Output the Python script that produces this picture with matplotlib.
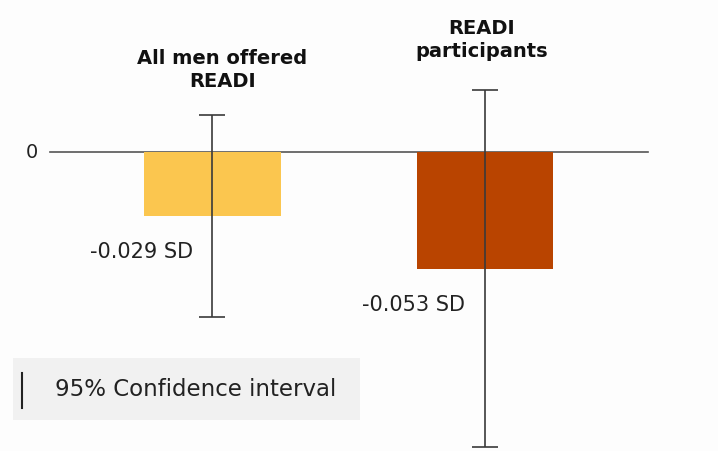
import numpy as np
import matplotlib.pyplot as plt
from matplotlib.patches import Rectangle

# data
groups = ['All men offered\nREADI', 'READI\nparticipants']
effects = [-0.029, -0.053]
ci_half = [0.046, 0.081]
value_labels = ['-0.029 SD', '-0.053 SD']
colors = ['#FBC64F', '#B94400']

plt.rcParams['font.family'] = ['DejaVu Sans']

fig = plt.figure(figsize=(7.18, 4.51), dpi=100)
fig.patch.set_facecolor('#fdfdfd')
ax = fig.add_axes([0, 0, 1, 1])
ax.set_facecolor('#fdfdfd')

x = np.arange(len(groups))
ax.axhline(0, xmin=0.07, xmax=0.903, color='#555555', lw=1.2, zorder=1)
ax.bar(x, effects, width=0.5, color=colors, zorder=2)
ax.errorbar(x, effects, yerr=ci_half, fmt='none', ecolor='#3a3a3a',
            elinewidth=1.2, capsize=9.5, capthick=1.2, zorder=3)

# title offsets (points) above the CI caps
title_off = [(7, 17), (-2, 21)]
for i in range(len(groups)):
    ax.text(x[i] - 0.26, effects[i] - 0.0165, value_labels[i],
            ha='center', va='center', fontsize=15, color='#222222')
    ax.annotate(groups[i], (x[i], effects[i] + ci_half[i]),
                xytext=title_off[i], textcoords='offset points',
                ha='center', va='bottom', fontsize=14, fontweight='bold',
                linespacing=1.3, color='#111111')

ax.text(-0.665, 0, '0', ha='center', va='center', fontsize=14, color='#222222')

# legend box
fig.patches.append(Rectangle((13 / 718, 1 - 420 / 451), 347 / 718, 62 / 451,
                             transform=fig.transFigure, facecolor='#f1f1f1',
                             edgecolor='none', zorder=0))
fig.lines.append(plt.Line2D([22 / 718, 22 / 718], [1 - 373 / 451, 1 - 408 / 451],
                            transform=fig.transFigure, color='#222222', lw=1.5))
fig.text(55 / 718, 1 - 390 / 451, '95% Confidence interval', ha='left', va='center',
         fontsize=16.5, color='#222222')

ax.set_xlim(-0.781, 1.858)
ax.set_ylim(-0.1359, 0.0691)
ax.axis('off')

fig.savefig('out.png', dpi=100, facecolor=fig.get_facecolor())
